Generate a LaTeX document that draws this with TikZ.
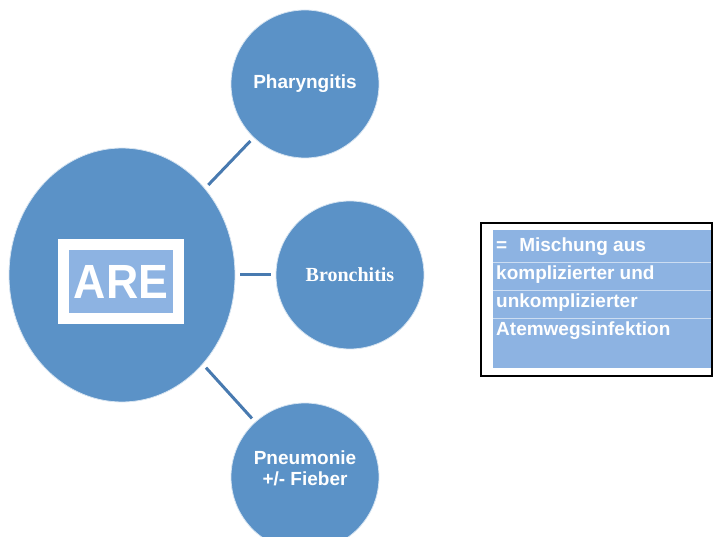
\documentclass[tikz,border=0pt]{standalone}
\usepackage{fontspec}
\setmainfont{Liberation Sans}
\newfontfamily\bronchfont{Liberation Serif}
\usepackage{tikz}
\usetikzlibrary{shapes.geometric}

\definecolor{circleblue}{RGB}{91,146,199}
\definecolor{paleblue}{RGB}{141,179,226}
\definecolor{linkblue}{RGB}{72,122,176}

\begin{document}
\begin{tikzpicture}[x=1pt,y=-1pt,
	bubble/.style={circle, fill=circleblue, draw=white!75!circleblue, line width=0.8pt,
		minimum size=2*\bubbleRadius, inner sep=0pt, outer sep=0pt, text=white,
		font=\bfseries\fontsize{19}{21}\selectfont, align=center},
	link/.style={draw=linkblue, line width=3pt, shorten <=5pt, shorten >=5pt}]
	\newcommand{\bubbleRadius}{74}
	\newcommand{\areWidth}{226}
	\newcommand{\areHeight}{254}

	\clip (0,0) rectangle (715,537);

	% centre ellipse
	\node[ellipse, fill=circleblue, draw=white!75!circleblue, line width=0.8pt,
		minimum width=\areWidth, minimum height=\areHeight, inner sep=0pt, outer sep=0pt]
		(are) at (122,275) {};
	\node[fill=paleblue, draw=white, line width=11pt, minimum width=114.5, minimum height=73.5,
		inner sep=0pt, text=white, font=\bfseries\fontsize{48}{48}\selectfont]
		(are label) at (121,281.5) {\scalebox{0.93}[1]{ARE}};

	% outer bubbles
	\node[bubble] (pharyngitis) at (305,84) {Pharyngitis};
	\node[bubble, font=\bronchfont\bfseries\fontsize{20}{22}\selectfont] (bronchitis) at (350,275) {Bronchitis};
	\node[bubble, text depth=18pt] (pneumonie) at (305,477) {Pneumonie\\+/- Fieber};

	% connectors
	\draw[link] (are) -- (pharyngitis);
	\draw[link] (are) -- (bronchitis);
	\draw[link] (are) -- (pneumonie);

	% definition box
	\node[draw=black, line width=2pt, minimum width=231, minimum height=153,
		inner sep=0pt, outer sep=0pt] (definition) at (596.5,299.5) {};
	\fill[paleblue] (493,230) rectangle (711,368);
	\foreach \rowY in {262,290,318}
		\draw[white!55!paleblue, line width=0.8pt] (493,\rowY) -- (711,\rowY);
	\node[anchor=north west, align=left, inner sep=0pt, text=white,
		font=\bfseries\fontsize{19}{28}\selectfont]
		(definition text) at (496,237.5)
		{=\hspace{12pt}Mischung aus\\komplizierter und\\unkomplizierter\\Atemwegsinfektion};
\end{tikzpicture}
\end{document}
